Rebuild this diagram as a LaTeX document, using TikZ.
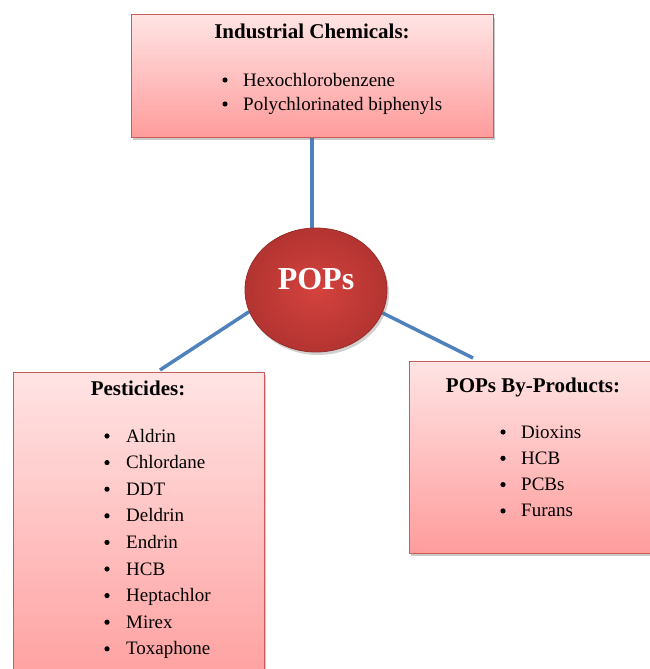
\documentclass[tikz,border=0pt]{standalone}
\usepackage{fontspec}
\setmainfont{Liberation Serif}
\usetikzlibrary{shapes.geometric,shadows,backgrounds}
\definecolor{boxtop}{HTML}{FFE4E4}
\definecolor{boxbot}{HTML}{FF9C9C}
\definecolor{boxline}{HTML}{C95B58}
\definecolor{linkblue}{HTML}{4F81BD}
\definecolor{ballin}{HTML}{D4423E}
\definecolor{ballout}{HTML}{B33431}
\tikzset{
  catbox/.style={draw=boxline, line width=1pt, top color=boxtop, bottom color=boxbot,
    drop shadow={shadow xshift=2pt, shadow yshift=-3pt, opacity=0.35, fill=black!60}},
  boxtitle/.style={font=\fontsize{21}{24}\selectfont\bfseries, inner sep=0pt, anchor=base},
  itemtext/.style={font=\fontsize{19}{24}\selectfont, inner sep=0pt, anchor=base west},
  bul/.style={circle, fill=black, inner sep=0pt, minimum size=5.2pt},
  link/.style={draw=linkblue, line width=3.5pt}
}
\begin{document}
\begin{tikzpicture}[x=1pt,y=-1pt]
\useasboundingbox (0,0) rectangle (649,669);
% boxes
\path[catbox] (131,15) rectangle (493,137);
\node[inner sep=0pt, minimum width=362pt, minimum height=122pt] (top) at (312,76) {};
\path[catbox] (13,372) rectangle (264,700);
\node[inner sep=0pt, minimum width=251pt, minimum height=328pt] (pest) at (138.5,536) {};
\path[catbox] (409,361) rectangle (660,553);
\node[inner sep=0pt, minimum width=251pt, minimum height=192pt] (byp) at (534.5,457) {};
% centre ball
\node[ellipse, minimum width=142pt, minimum height=124pt, inner sep=0pt,
      draw=ballout!85!black, line width=0.8pt, inner color=ballin, outer color=ballout,
      drop shadow={shadow xshift=2pt, shadow yshift=-3pt, opacity=0.3, fill=black!60}] (circ) at (316,290) {};
\node[font=\fontsize{32}{34}\selectfont\bfseries, text=white, inner sep=0pt, anchor=base] (popstext) at (316,289) {POPs};
\coordinate (lend) at (160,370);
\coordinate (rend) at (473,358);
\begin{scope}[on background layer]
  \draw[link] (circ.north -| top.south) -- (top.south);
  \draw[link] (circ.198) -- (lend);
  \draw[link] (circ.341) -- (rend);
\end{scope}
% top box text
\node[boxtitle] (toptitle) at (312,39) {Industrial Chemicals:};
\node[bul] (tb1) at (225,80) {};
\node[itemtext] (ti1) at (243,86) {Hexochlorobenzene};
\node[bul] (tb2) at (225,104) {};
\node[itemtext] (ti2) at (243,110) {Polychlorinated biphenyls};
% pesticides
\node[boxtitle] (pesttitle) at (138,395) {Pesticides:};
\foreach \t [count=\i] in {Aldrin,Chlordane,DDT,Deldrin,Endrin,HCB,Heptachlor,Mirex,Toxaphone}{
  \node[bul] (pb\i) at (107,{436+26.6*(\i-1)}) {};
  \node[itemtext] (pi\i) at (126,{442+26.6*(\i-1)}) {\t};
}
% by-products
\node[boxtitle] (byptitle) at (533,392) {POPs By-Products:};
\foreach \t [count=\i] in {Dioxins,HCB,PCBs,Furans}{
  \node[bul] (bb\i) at (503,{432+26.3*(\i-1)}) {};
  \node[itemtext] (bi\i) at (521,{438+26.3*(\i-1)}) {\t};
}
\end{tikzpicture}
\end{document}
